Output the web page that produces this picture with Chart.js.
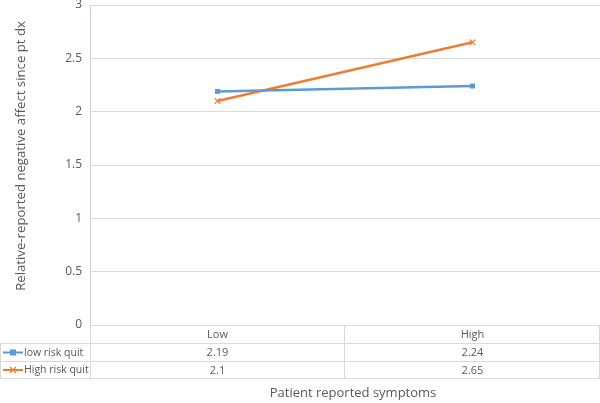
<!DOCTYPE html>
<html lang="en">
<head>
  <meta charset="UTF-8">
  <title>Negative affect by patient reported symptoms</title>
  <script src="https://cdn.jsdelivr.net/npm/chart.js"></script>
  <style>
    html, body { margin: 0; padding: 0; background: #fff; }
    #wrap { width: 600px; height: 403px; }
  </style>
</head>
<body>
  <div id="wrap"><canvas id="chart"></canvas></div>

  <script>
    // data
    const categories = ['Low', 'High'];
    const lowRiskQuit = [2.19, 2.24];
    const highRiskQuit = [2.1, 2.65];
    const seriesNames = ['low risk quit', 'High risk quit'];
    const yTicks = [0, 0.5, 1, 1.5, 2, 2.5, 3];

    const BLUE = '#5B9BD5';
    const ORANGE = '#ED7D31';
    const GRID = '#D9D9D9';
    const TEXT = '#595959';
    const FONT = '"Open Sans", "Noto Sans", sans-serif';

    // data table under the plot + axis titles, Excel style
    const dataTable = {
      id: 'dataTable',
      afterDraw(chart) {
        const ctx = chart.ctx;
        const x = chart.scales.x;
        const area = chart.chartArea;
        const rowH = [18, 18, 17];
        const top = area.bottom;
        const rows = [top, top + rowH[0], top + rowH[0] + rowH[1], top + rowH[0] + rowH[1] + rowH[2]];

        // column edges
        const edges = [area.left];
        for (let i = 0; i < categories.length - 1; i++) {
          edges.push((x.getPixelForValue(i) + x.getPixelForValue(i + 1)) / 2);
        }
        edges.push(area.right);

        ctx.save();
        ctx.strokeStyle = GRID;
        ctx.lineWidth = 1;
        ctx.beginPath();
        for (let r = 1; r < rows.length; r++) {
          ctx.moveTo(0, rows[r] + 0.5); ctx.lineTo(area.right, rows[r] + 0.5);
        }
        edges.slice(1).forEach(e => {
          ctx.moveTo(Math.round(e) - 0.5, rows[0]); ctx.lineTo(Math.round(e) - 0.5, rows[3]);
        });
        ctx.moveTo(Math.round(area.left) + 0.5, rows[0]); ctx.lineTo(Math.round(area.left) + 0.5, rows[3]);
        ctx.moveTo(0.5, rows[1]); ctx.lineTo(0.5, rows[3]);
        ctx.stroke();

        ctx.fillStyle = TEXT;
        ctx.font = '11px ' + FONT;
        ctx.textAlign = 'center';
        ctx.textBaseline = 'middle';
        const values = [lowRiskQuit, highRiskQuit];
        categories.forEach((c, i) => {
          const cx = x.getPixelForValue(i);
          ctx.fillText(c, cx, (rows[0] + rows[1]) / 2 + 1);
          values.forEach((arr, s) => {
            ctx.fillText(String(arr[i]), cx, (rows[s + 1] + rows[s + 2]) / 2 + 1);
          });
        });

        // legend keys
        const colors = [BLUE, ORANGE];
        seriesNames.forEach((name, s) => {
          const cy = (rows[s + 1] + rows[s + 2]) / 2 + 0.5;
          ctx.strokeStyle = colors[s];
          ctx.lineWidth = 2;
          ctx.beginPath();
          ctx.moveTo(3, cy); ctx.lineTo(23, cy);
          ctx.stroke();
          if (s === 0) {
            ctx.fillStyle = colors[s];
            ctx.fillRect(10, cy - 3, 6, 6);
          } else {
            ctx.lineWidth = 1.2;
            ctx.beginPath();
            ctx.moveTo(10, cy - 3); ctx.lineTo(16, cy + 3);
            ctx.moveTo(16, cy - 3); ctx.lineTo(10, cy + 3);
            ctx.stroke();
          }
          ctx.fillStyle = TEXT;
          ctx.textAlign = 'left';
          ctx.font = '10.5px ' + FONT;
          ctx.fillText(name, 24, cy + 0.5);
        });

        // axis titles
        ctx.font = '13px ' + FONT;
        ctx.textAlign = 'center';
        ctx.fillText('Patient reported symptoms', 353, 393);
        ctx.translate(21, 156);
        ctx.rotate(-Math.PI / 2);
        ctx.font = '13.2px ' + FONT;
        ctx.fillText('Relative-reported negative affect since pt dx', 0, 0);
        ctx.restore();
      }
    };

    new Chart(document.getElementById('chart'), {
      type: 'line',
      data: {
        labels: categories,
        datasets: [{
          label: seriesNames[0],
          data: lowRiskQuit,
          borderColor: BLUE,
          backgroundColor: BLUE,
          borderWidth: 2.5,
          pointStyle: 'rect',
          pointRadius: 3.5,
          pointBorderWidth: 0,
          tension: 0
        }, {
          label: seriesNames[1],
          data: highRiskQuit,
          borderColor: ORANGE,
          backgroundColor: ORANGE,
          borderWidth: 2.5,
          pointStyle: 'cross',
          pointRotation: 45,
          pointRadius: 4,
          pointBorderWidth: 1.2,
          tension: 0
        }]
      },
      options: {
        responsive: true,
        maintainAspectRatio: false,
        animation: false,
        layout: { autoPadding: false, padding: { top: 5, right: 0, bottom: 78, left: 0 } },
        plugins: {
          legend: { display: false },
          tooltip: { enabled: false }
        },
        scales: {
          x: {
            display: false,
            offset: true
          },
          y: {
            min: 0,
            max: 3,
            afterBuildTicks: (scale) => { scale.ticks = yTicks.map(v => ({ value: v })); },
            afterFit: (scale) => {
              scale.width = 90;
              scale.paddingTop = 0;
              scale.paddingBottom = 0;
              scale.paddingRight = 0;
            },
            grid: { color: GRID, drawTicks: false },
            border: { color: '#C5D0E0' },
            ticks: {
              padding: 8,
              color: TEXT,
              font: { family: FONT, size: 12 },
              callback: (v) => String(v)
            }
          }
        }
      },
      plugins: [dataTable]
    });
  </script>
</body>
</html>
